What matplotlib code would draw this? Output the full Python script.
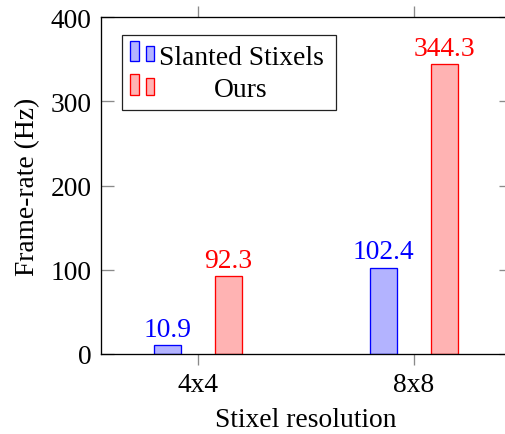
import matplotlib
matplotlib.use("Agg")
import matplotlib.pyplot as plt
from matplotlib.patches import Rectangle
import numpy as np

# Data
resolutions = ["4x4", "8x8"]
series_names = ["Slanted Stixels", "Ours"]
slanted_stixels = [10.9, 102.4]
ours = [92.3, 344.3]
y_ticks = [0, 100, 200, 300, 400]

W, H = 506, 435
FS = 19.8
plt.rcParams["font.family"] = ["Liberation Serif", "DejaVu Serif"]
plt.rcParams["font.size"] = FS

fig = plt.figure(figsize=(W / 100, H / 100), dpi=100)


def fx(x):
    return x / W


def fy(y):
    return 1 - y / H


ax_l, ax_r, ax_t, ax_b = 101, 511, 18, 355
ax = fig.add_axes([fx(ax_l), fy(ax_b), (ax_r - ax_l) / W, (ax_b - ax_t) / H])

x = np.arange(len(resolutions))
offset = 0.14
width = 0.125
blue_face, blue_edge = "#b3b3ff", "#0000ff"
red_face, red_edge = "#ffb3b3", "#ff0000"

bars1 = ax.bar(x - offset, slanted_stixels, width, color=blue_face, edgecolor=blue_edge, linewidth=0.95)
bars2 = ax.bar(x + offset, ours, width, color=red_face, edgecolor=red_edge, linewidth=0.95)

for bars, vals, col in ((bars1, slanted_stixels, blue_edge), (bars2, ours, red_edge)):
    for b, v in zip(bars, vals):
        ax.annotate(f"{v:.1f}", xy=(b.get_x() + b.get_width() / 2, v),
                    xytext=(0, 6.7), textcoords="offset points",
                    ha="center", va="baseline", color=col, fontsize=FS)

ax.set_xlim(-0.45, 1.45)
ax.set_ylim(0, 400)
ax.set_xticks(x)
ax.set_xticklabels(resolutions)
ax.set_yticks(y_ticks)

for s in ax.spines.values():
    s.set_linewidth(0.95)
    s.set_color("black")

ax.tick_params(axis="y", direction="in", left=True, right=True, length=9,
               width=0.95, color="#8a8a8a", pad=7)
ax.tick_params(axis="x", direction="out", bottom=True, top=True, length=8,
               width=0.95, color="#8a8a8a", pad=5)

ax.set_xlabel("Stixel resolution", labelpad=7)
ax.set_ylabel("Frame-rate (Hz)", labelpad=7)

# Legend box drawn in figure pixels
fig.add_artist(Rectangle((fx(122), fy(111)), (336 - 122) / W, (111 - 36) / H,
                         transform=fig.transFigure, facecolor="white",
                         edgecolor="#222222", linewidth=0.9, zorder=5))
icons = [
    (blue_face, blue_edge, [(130, 139, 42, 62), (146, 154, 47, 62)]),
    (red_face, red_edge, [(130, 139, 75, 96), (146, 154, 79, 96)]),
]
for face, edge, rects in icons:
    for x0, x1, y0, y1 in rects:
        fig.add_artist(Rectangle((fx(x0), fy(y1)), (x1 - x0) / W, (y1 - y0) / H,
                                 transform=fig.transFigure, facecolor=face,
                                 edgecolor=edge, linewidth=0.95, zorder=6))
fig.text(fx(159), fy(65), series_names[0], ha="left", va="baseline", fontsize=FS, zorder=7)
fig.text(fx(241), fy(97), series_names[1], ha="center", va="baseline", fontsize=FS, zorder=7)

fig.savefig("out.png", dpi=100)
